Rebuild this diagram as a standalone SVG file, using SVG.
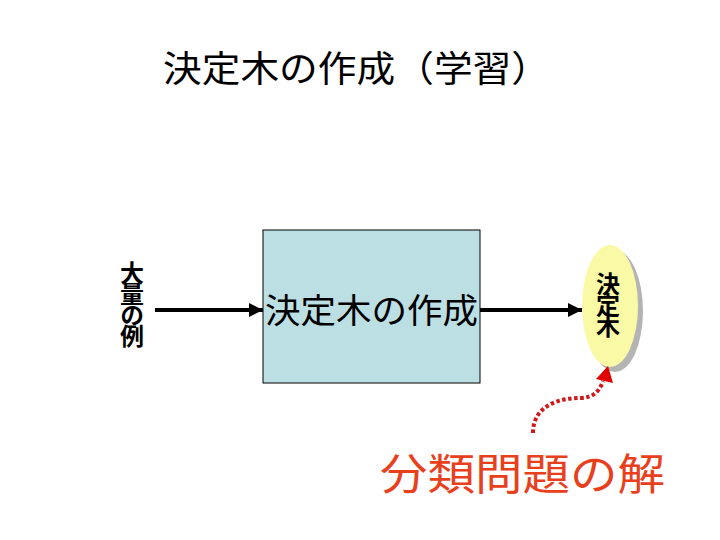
<svg xmlns="http://www.w3.org/2000/svg" width="720" height="540" viewBox="0 0 720 540">
<defs>
<style>
.jp{font-family:"Noto Sans CJK JP","Noto Sans CJK SC",sans-serif;}
.conn{stroke:#000;stroke-width:4;fill:none;}
.vert{font-family:"Noto Sans CJK JP",sans-serif;font-weight:bold;font-size:24px;writing-mode:vertical-rl;letter-spacing:-3px;}
</style>
<marker id="ah" viewBox="0 0 10 10" refX="10" refY="5" markerWidth="3.6" markerHeight="3.6" markerUnits="strokeWidth" orient="auto">
<path d="M0,0 L10,5 L0,10 z" fill="#000"/>
</marker>
</defs>
<rect width="720" height="540" fill="#fff"/>
<g id="title">
<text class="jp" x="163" y="82" font-size="36" textLength="387" lengthAdjust="spacingAndGlyphs">決定木の作成（学習）</text>
</g>
<g id="input">
<text class="vert" x="132" y="261">大量の例</text>
</g>
<g id="process">
<rect x="263" y="230" width="217" height="153" fill="#BCDFE3" stroke="#000" stroke-width="1"/>
<text class="jp" x="265" y="323" font-size="34" textLength="213" lengthAdjust="spacingAndGlyphs">決定木の作成</text>
</g>
<g id="tree">
<ellipse cx="615" cy="311" rx="28" ry="61" fill="#B4B4B4"/>
<ellipse cx="610" cy="306" rx="28" ry="61" fill="#FAFAA6"/>
<text class="vert" x="608" y="272">決定木</text>
</g>
<g id="result">
<text class="jp" x="380" y="490" font-size="43" fill="#E8401C" textLength="285" lengthAdjust="spacingAndGlyphs">分類問題の解</text>
</g>
<g id="connectors">
<line class="conn" x1="155" y1="310" x2="263" y2="310" marker-end="url(#ah)"/>
<line class="conn" x1="480" y1="310" x2="582" y2="310" marker-end="url(#ah)"/>
<path d="M533,433 C533,405 560,398 580,398 C594,398 600,390 603,381" fill="none" stroke="#D01818" stroke-width="4" stroke-dasharray="3.5 2.5"/>
<polygon points="608,366 596,379 613,383" fill="#E00000"/>
</g>
</svg>
